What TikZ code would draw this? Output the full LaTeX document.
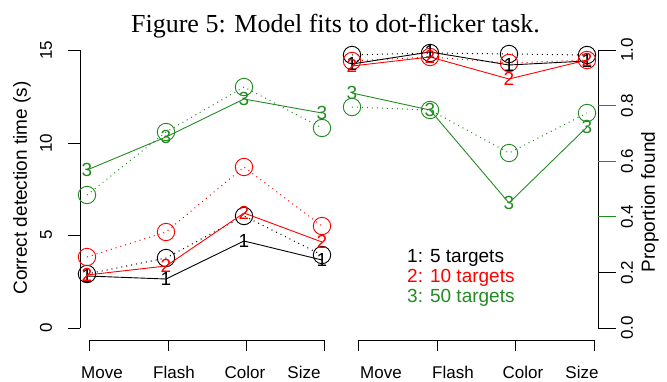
\documentclass[tikz,border=0pt]{standalone}
\usepackage{fontspec}
\setmainfont{Liberation Serif}
\newfontfamily\hv{Liberation Sans}
\definecolor{rgreen}{RGB}{34,139,34}
\definecolor{rred}{RGB}{255,0,0}
\def\xLa{87}\def\xLb{166}\def\xLc{244}\def\xLd{322}
\def\xRa{352}\def\xRb{430}\def\xRc{509}\def\xRd{587}
% observed series: color, name, panel, y1..y4
\newcommand\obsser[7]{%
  \node[obs,draw=#1] (#2a) at (\csname x#3a\endcsname,#4) {};
  \node[obs,draw=#1] (#2b) at (\csname x#3b\endcsname,#5) {};
  \node[obs,draw=#1] (#2c) at (\csname x#3c\endcsname,#6) {};
  \node[obs,draw=#1] (#2d) at (\csname x#3d\endcsname,#7) {};
  \draw[obsline,#1] (#2a.center) -- (#2b.center) -- (#2c.center) -- (#2d.center);
}
% model series: color, name, panel, y1..y4, digit
\newcommand\fitser[8]{%
  \draw[fitline,#1] (\csname x#3a\endcsname,#4) coordinate (#2a)
     -- (\csname x#3b\endcsname,#5) coordinate (#2b)
     -- (\csname x#3c\endcsname,#6) coordinate (#2c)
     -- (\csname x#3d\endcsname,#7) coordinate (#2d);
  \node[mk,text=#1] (#2A) at (#2a) {#8};
  \node[mk,text=#1] (#2B) at (#2b) {#8};
  \node[mk,text=#1] (#2C) at (#2c) {#8};
  \node[mk,text=#1] (#2D) at (#2d) {#8};
}
\begin{document}
\begin{tikzpicture}[x=1pt,y=-1pt,
  obs/.style={circle,minimum size=17.4pt,inner sep=0pt,line width=0.9pt},
  obsline/.style={line width=1pt,dash pattern=on 1pt off 4pt},
  fitline/.style={line width=0.9pt},
  mk/.style={font=\hv\fontsize{19}{19}\selectfont,inner sep=0pt},
  axisline/.style={line width=0.9pt},
  ticklab/.style={font=\hv\fontsize{17}{17}\selectfont,inner sep=0pt},
  lab/.style={font=\hv\fontsize{19}{19}\selectfont,inner sep=0pt}]
\useasboundingbox (0,0) rectangle (667,381);

% title
\node[font=\fontsize{26}{26}\selectfont,anchor=base,inner sep=0pt] (title) at (335.5,32) {Figure 5: Model fits to dot-flicker task.};

% ---------- left panel axes ----------
\coordinate (ly0) at (80,328);
\coordinate (ly15) at (80,50);
\draw[axisline] (ly0) -- (ly15);
\foreach \v/\y in {0/328,5/235,10/143,15/50}{
  \draw[axisline] (80,\y) -- (68,\y);
  \node[ticklab,rotate=90] (lt\v) at (46,\y) {\v};
}
\node[lab,rotate=90] (ylabL) at (22,188) {Correct detection time (s)};

\coordinate (lx1) at (89,340);
\coordinate (lx4) at (324,340);
\draw[axisline] (lx1) -- (lx4);
\foreach \x in {89,168,246,324}{ \draw[axisline] (\x,340) -- (\x,351); }
\node[ticklab,anchor=base] (lxm) at (102,378) {Move};
\node[ticklab,anchor=base] (lxf) at (174,378) {Flash};
\node[ticklab,anchor=base] (lxc) at (245,378) {Color};
\node[ticklab,anchor=base] (lxs) at (304,378) {Size};

% ---------- right panel axes ----------
\coordinate (ry0) at (598,328);
\coordinate (ry1) at (598,50);
\draw[axisline] (ry0) -- (ry1);
\foreach \v/\y/\c in {0.0/328/black,0.2/272.4/black,0.4/216.8/rgreen,0.6/161.2/rgreen,0.8/105.6/rgreen,1.0/50/black}{
  \draw[axisline,\c] (598,\y) -- (616,\y);
  \node[ticklab,rotate=90] (rt\v) at (627,\y) {\v};
}
\node[lab,rotate=90] (ylabR) at (650,202) {Proportion found};

\coordinate (rx1) at (358,340);
\coordinate (rx4) at (594,340);
\draw[axisline] (rx1) -- (rx4);
\foreach \x in {358,437,515,594}{ \draw[axisline] (\x,340) -- (\x,351); }
\node[ticklab,anchor=base] (rxm) at (381,378) {Move};
\node[ticklab,anchor=base] (rxf) at (453,378) {Flash};
\node[ticklab,anchor=base] (rxc) at (523,378) {Color};
\node[ticklab,anchor=base] (rxs) at (582,378) {Size};

% ---------- left panel data ----------
\obsser{black}{Lbd}{L}{274}{258}{216}{255}
\obsser{rred}{Lrd}{L}{257}{232}{167}{226}
\obsser{rgreen}{Lgd}{L}{195}{132}{87}{128}
\fitser{black}{Lbm}{L}{276}{279}{241}{260}{1}
\fitser{rred}{Lrm}{L}{275}{266}{213}{242}{2}
\fitser{rgreen}{Lgm}{L}{170}{137}{99}{113}{3}

% ---------- right panel data ----------
\obsser{black}{Rbd}{R}{55}{53}{54}{55}
\obsser{rred}{Rrd}{R}{61}{57}{63}{60}
\obsser{rgreen}{Rgd}{R}{107}{110}{153}{113}
\fitser{black}{Rbm}{R}{64}{52}{65}{61}{1}
\fitser{rred}{Rrm}{R}{66}{57}{79}{60}{2}
\fitser{rgreen}{Rgm}{R}{93}{110}{203}{127}{3}

% legend
\node[lab,anchor=base west,text=black] (leg1) at (407,262) {1: 5 targets};
\node[lab,anchor=base west,text=rred] (leg2) at (407,282) {2: 10 targets};
\node[lab,anchor=base west,text=rgreen] (leg3) at (407,302) {3: 50 targets};
\end{tikzpicture}
\end{document}
